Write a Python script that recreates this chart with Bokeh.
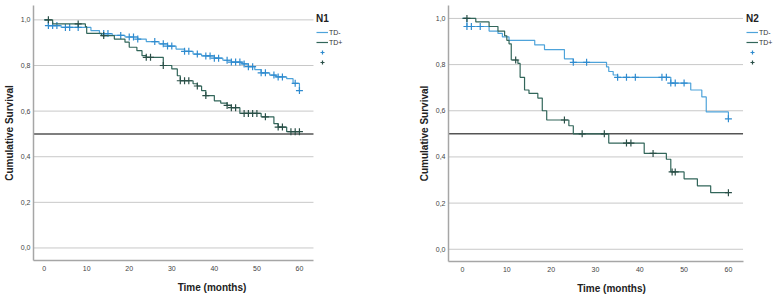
import numpy as np
from bokeh.plotting import figure
from bokeh.layouts import row
from bokeh.models import (Range1d, FixedTicker, CustomJSTickFormatter,
                          Legend, LegendItem)
from bokeh.embed import file_html
from bokeh.resources import INLINE

# ---------------- data ----------------
x_ticks = [0, 10, 20, 30, 40, 50, 60]
y_ticks = [0.0, 0.2, 0.4, 0.6, 0.8, 1.0]
ref_level = 0.5
groups = ["TD-", "TD+"]

# N1, TD-
n1_neg_t = [0, 1, 4, 11, 13, 16, 19, 22, 24, 27, 29, 31, 33, 35, 37, 40, 42, 44,
            46.5, 48, 49.5, 51, 53, 54.5, 57, 58.5, 60]
n1_neg_s = [1.0, 0.975, 0.967, 0.953, 0.94, 0.932, 0.925, 0.916, 0.905, 0.895,
            0.885, 0.872, 0.862, 0.85, 0.842, 0.832, 0.823, 0.815, 0.807, 0.795,
            0.782, 0.768, 0.758, 0.75, 0.742, 0.722, 0.69]
n1_neg_cens = [1, 2, 3, 5, 6, 8, 14, 15, 18, 20, 21, 22, 26, 28, 29, 30, 33, 34,
               36, 38, 39, 40, 41, 43, 44, 45, 46, 47, 48, 49, 51, 52, 54, 55,
               56, 59, 60]
# N1, TD+
n1_pos_t = [0, 2, 9.7, 10, 13.5, 16.5, 19, 20, 21.8, 23, 24, 28, 30, 31.3, 32,
            35, 36, 37, 38, 40, 41.5, 43, 44, 46, 51, 54, 55, 57, 60]
n1_pos_s = [1.0, 0.982, 0.97, 0.941, 0.931, 0.916, 0.902, 0.88, 0.865, 0.843,
            0.836, 0.8, 0.785, 0.755, 0.733, 0.72, 0.71, 0.69, 0.668, 0.645,
            0.635, 0.625, 0.615, 0.59, 0.575, 0.545, 0.53, 0.51, 0.51]
n1_pos_cens = [1, 8, 14, 24, 25, 28, 32, 33, 34, 36, 38, 43, 44, 45, 47, 48, 49,
               50, 52, 55, 56, 58, 59, 60]

# N2, TD-
n2_neg_t = [0, 1, 6, 8, 9, 10.5, 16.3, 18.5, 23, 25, 32.5, 33, 34, 35, 47, 51.5,
            54, 55, 60]
n2_neg_s = [1.0, 0.965, 0.945, 0.935, 0.92, 0.905, 0.885, 0.865, 0.825, 0.81,
            0.79, 0.77, 0.755, 0.745, 0.72, 0.69, 0.66, 0.595, 0.565]
n2_neg_cens = [1, 2, 4, 25, 28, 35, 37, 39, 45, 46, 47, 48, 50, 60]
# N2, TD+
n2_pos_t = [0, 3, 6, 8, 9.5, 10, 10.5, 11, 12.5, 13, 14, 15, 17, 18, 19, 24, 25,
            33, 41, 46, 47, 50, 53, 56, 60]
n2_pos_s = [1.0, 0.985, 0.965, 0.945, 0.925, 0.905, 0.89, 0.82, 0.805, 0.745,
            0.69, 0.675, 0.655, 0.6, 0.56, 0.535, 0.5, 0.46, 0.415, 0.39, 0.335,
            0.305, 0.275, 0.245, 0.245]
n2_pos_cens = [1, 12, 23, 27, 32, 37, 38, 43, 47.3, 48, 60]

BLUE = "#4ea3da"
BLUE_M = "#2f8bcf"
GREEN = "#32665a"
GREEN_M = "#2a4f47"
FONT = "Liberation Sans"


def surv_at(t_arr, s_arr, tc):
    t_arr = np.asarray(t_arr, dtype=float)
    idx = np.searchsorted(t_arr, np.asarray(tc, dtype=float), side="right") - 1
    return [float(v) for v in np.asarray(s_arr)[idx]]


def make_panel(title, curves, fw, xr, x_end_axis, yr, b_left, b_top, b_bottom,
               leg_x):
    fh = 298 - b_top - b_bottom
    p = figure(frame_width=fw, frame_height=fh, output_backend="svg",
               toolbar_location=None,
               x_range=Range1d(*xr), y_range=Range1d(*yr),
               min_border_left=b_left, min_border_right=0,
               min_border_top=b_top, min_border_bottom=b_bottom)
    p.outline_line_color = None
    p.background_fill_color = "white"
    p.border_fill_color = "white"
    p.xgrid.visible = False
    p.ygrid.visible = False

    # horizontal grid lines limited to the plotting area (left of the legend)
    p.segment(x0=[xr[0]] * len(y_ticks), x1=[x_end_axis] * len(y_ticks),
              y0=y_ticks, y1=y_ticks, line_color="#c8c8c8", line_width=1)

    for ax in (p.xaxis[0], p.yaxis[0]):
        ax.axis_line_color = "#a6a6a6"
        ax.axis_line_width = 1.5
        ax.major_tick_line_color = None
        ax.minor_tick_line_color = None
        ax.major_tick_out = 0
        ax.major_tick_in = 0
        ax.minor_tick_out = 0
        ax.minor_tick_in = 0
        ax.major_label_text_font = FONT
        ax.major_label_text_font_size = "7px"
        ax.major_label_text_color = "#444444"
        ax.axis_label_text_font = FONT
        ax.axis_label_text_font_size = "10px"
        ax.axis_label_text_font_style = "bold"
        ax.axis_label_text_color = "#222222"
    p.xaxis.ticker = FixedTicker(ticks=x_ticks)
    p.xaxis.bounds = (xr[0], x_end_axis)
    p.yaxis.ticker = FixedTicker(ticks=y_ticks)
    p.yaxis.formatter = CustomJSTickFormatter(code="return tick.toFixed(1).replace('.', ',');")
    p.xaxis.axis_label = "Time (months)"
    p.yaxis.axis_label = "Cumulative Survival"
    p.xaxis.major_label_standoff = 5
    p.xaxis.axis_label_standoff = 8
    p.yaxis.major_label_standoff = 3
    p.yaxis.axis_label_standoff = 3

    # reference line at 0.5
    p.segment(x0=[xr[0]], x1=[x_end_axis], y0=[ref_level], y1=[ref_level],
              line_color="#555555", line_width=1.5)

    items = []
    cross_items = []
    for name, (t, s, cens, col, mcol) in zip(groups, curves):
        r = p.step(t, s, mode="after", line_color=col, line_width=1.2)
        ys = surv_at(t, s, cens)
        m = p.scatter(cens, ys, marker="cross", size=7, line_color=mcol,
                      line_width=1.2)
        items.append(LegendItem(label=name, renderers=[r]))
        cross_items.append(LegendItem(label=" ", renderers=[m]))

    leg = Legend(items=items + cross_items, title=title,
                 location=(leg_x, fh - 62),
                 title_text_font=FONT, title_text_font_size="10px",
                 title_text_font_style="bold", title_text_color="#222222",
                 title_standoff=3,
                 label_text_font=FONT, label_text_font_size="7px",
                 label_text_color="#333333",
                 glyph_width=12, glyph_height=10, label_height=10,
                 label_standoff=1, spacing=0, padding=0, margin=0,
                 border_line_color=None, background_fill_alpha=0)
    p.add_layout(leg, "center")
    return p


# left panel: frame 33..390, x=0 at ~43.7, 4.257 px per month
p1 = make_panel("N1",
                [(n1_neg_t, n1_neg_s, n1_neg_cens, BLUE, BLUE_M),
                 (n1_pos_t, n1_pos_s, n1_pos_cens, GREEN, GREEN_M)],
                357, (-2.5, 81.4), 63.3, (-0.055, 1.063), 33, 5, 38, 283)
# right panel: frame 448..774, x=0 at ~461.7, 4.433 px per month
p2 = make_panel("N2",
                [(n2_neg_t, n2_neg_s, n2_neg_cens, BLUE, BLUE_M),
                 (n2_pos_t, n2_pos_s, n2_pos_cens, GREEN, GREEN_M)],
                326, (-3.16, 70.4), 63.3, (-0.053, 1.056), 58, 5, 37, 298)

layout = row(p1, p2)
open("out.html", "w").write(file_html(layout, INLINE))
